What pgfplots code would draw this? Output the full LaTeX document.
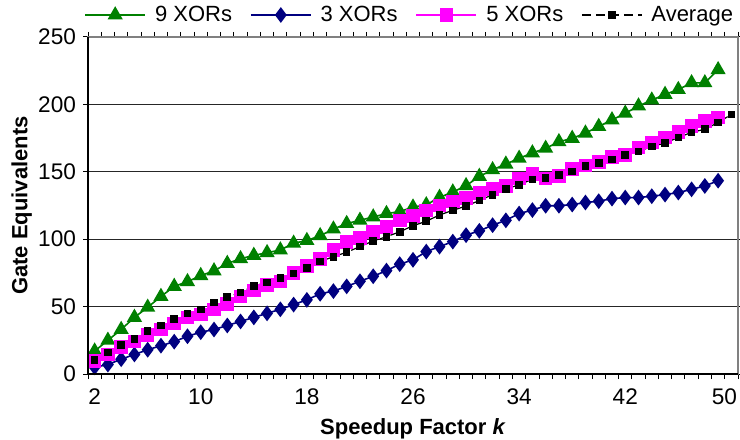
\documentclass[border=0pt]{standalone}
\usepackage{fontspec}
\setmainfont{Liberation Sans}
\usepackage{pgfplots}
\usepackage{pgfplotstable}
\pgfplotsset{compat=1.18}
\definecolor{xgreen}{RGB}{0,128,0}
\definecolor{xnavy}{RGB}{0,0,128}
\definecolor{xmag}{RGB}{255,0,255}
\pgfplotstableread{
k g9 g3 g5
2 17 5 9.7
3 25 7 14.5
4 33 11 20
5 42 14.5 24
6 49.5 18 29
7 57.5 21 33
8 65 24 37.5
9 68.5 28 42
10 73 31 44
11 76.5 33 48
12 82 36 52
13 85.5 39 57.5
14 88 42 62
15 90 45 66
16 92 48 68.5
17 97 51.5 75
18 99 55 80
19 102.6 59.5 85.5
20 107.5 61.5 92
21 111.6 65 98
22 114 68.8 101
23 116.5 72.5 105.5
24 119 76.7 109
25 120.5 81.5 114
26 123.8 84.7 117
27 125.5 90.8 121.4
28 131 94.5 125
29 135 98.2 128
30 139.7 103 130.4
31 146.6 106.2 134.4
32 151.5 110.4 137.4
33 155.7 114 139.5
34 160 119 145
35 164 121.6 148.5
36 167.4 124.8 145
37 172.3 124.8 146.8
38 174.8 125.7 152.2
39 178.7 127.2 154.7
40 183.6 128.2 157.1
41 188.5 130.1 160.8
42 193.4 130.9 162.5
43 198.8 130.9 168.1
44 203.2 131.9 171.8
45 207.4 133.1 175.5
46 211 134.6 179.7
47 216 137 184.1
48 216 139.5 187.7
49 225.7 143.4 190.2
}\series
\pgfplotstableread{
k avg
2 10.4
3 16
4 21.5
5 26
6 32
7 36
8 41
9 45
10 48
11 53
12 57
13 60.5
14 65.5
15 68
16 71
17 74.5
18 78.6
19 83.5
20 87
21 90.3
22 94.5
23 98.7
24 101.8
25 105.5
26 110
27 113.3
28 118
29 121.4
30 124.6
31 128.7
32 133
33 137.2
34 140.4
35 144.4
36 145.3
37 147.8
38 150.2
39 154.2
40 156.6
41 159.1
42 162.5
43 165
44 168.9
45 171.3
46 175.5
47 179.2
48 181.6
49 186.5
50 192.6
}\avgtable
\begin{document}
\begin{tikzpicture}
\begin{axis}[
  scale only axis, width=325pt, height=168.5pt,
  xmin=1.5, xmax=50.5, ymin=0, ymax=250,
  xtick={2,10,...,50}, ytick={0,50,...,250},
  xticklabels={2,10,18,26,34,42,{\hspace*{-7pt}50}},
  minor xtick={1.5,2.5,...,50.5},
  tick align=outside,
  major tick length=2.5pt, minor tick length=2.5pt,
  major x tick style={draw=none},
  minor x tick style={draw=black, line width=0.5pt},
  y tick style={draw=black, line width=0.5pt},
  ymajorgrids, grid style={black!85, line width=0.6pt},
  axis line style={gray, line width=0.8pt},
  /pgf/number format/assume math mode=true,
  ticklabel style={font=\fontsize{11.3}{13}\selectfont},
  xticklabel style={yshift=-1.5pt},
  label style={font=\fontsize{11}{13}\selectfont\bfseries},
  xlabel={Speedup Factor \textit{k}},
  ylabel={Gate Equivalents},
  xlabel style={at={(axis description cs:0.5,-0.162)}, anchor=center},
  ylabel style={at={(axis description cs:-0.102,0.5)}, anchor=center},
  legend columns=4,
  legend style={draw=none, fill=none, at={(axis description cs:0,1)}, anchor=west,
    xshift=-5pt, yshift=11pt, font=\fontsize{11}{13}\selectfont,
    /tikz/every odd column/.append style={column sep=2.5pt},
    /tikz/every even column/.append style={column sep=7pt}},
  legend image code/.code={\draw[mark repeat=2,mark phase=2] plot coordinates {(0pt,0pt) (15pt,0pt) (30pt,0pt)};},
]
\addplot[xgreen, line width=0.8pt, mark=triangle*, mark size=3.6pt, mark options={solid}] table[x=k, y=g9] {\series};
\addlegendentry{9 XORs}
\addplot[xnavy, line width=0.8pt, mark=diamond*, mark size=3.3pt, mark options={solid}] table[x=k, y=g3] {\series};
\addlegendentry{3 XORs}
\addplot[xmag, line width=0.8pt, mark=square*, mark size=3pt, mark options={solid}] table[x=k, y=g5] {\series};
\addlegendentry{5 XORs}
\addplot[black, line width=0.6pt, dash pattern=on 4.5pt off 2.5pt, mark=square*, mark size=1.6pt, mark options={solid}] table[x=k, y=avg] {\avgtable};
\addlegendentry{Average}
\end{axis}
\draw[black, line width=0.8pt] (current axis.north west) -- (current axis.south west) -- (current axis.south east);
\pgfresetboundingbox
\path[use as bounding box] ([shift={(-44pt,-32.5pt)}]current axis.south west) rectangle ([shift={(1pt,18.5pt)}]current axis.north east);
\end{tikzpicture}
\end{document}
